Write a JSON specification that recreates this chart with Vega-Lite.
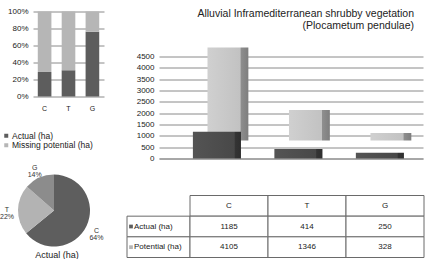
{
  "$schema": "https://vega.github.io/schema/vega-lite/v6.json",
  "padding": {"left": 0, "top": 7.5, "right": 0, "bottom": 0},
  "bounds": "full",
  "spacing": 1,
  "resolve": {"scale": {"color": "independent"}, "legend": {"color": "independent"}},
  "config": {
    "view": {"stroke": null},
    "font": "Liberation Sans",
    "axis": {"labelFont": "Liberation Sans", "labelColor": "#222"},
    "legend": {"labelFont": "Liberation Sans", "labelColor": "#222"},
    "title": {"font": "Liberation Sans", "color": "#222", "fontWeight": "normal"},
    "text": {"font": "Liberation Sans"}
  },
  "vconcat": [
    {
      "bounds": "flush",
      "spacing": 55,
      "resolve": {"scale": {"color": "independent"}, "legend": {"color": "independent"}},
      "hconcat": [
        {
          "width": 71,
          "height": 85,
          "data": {"values": [
            {"cat": "C", "series": "Actual (ha)", "value": 1185},
            {"cat": "C", "series": "Missing potential (ha)", "value": 2920},
            {"cat": "T", "series": "Actual (ha)", "value": 414},
            {"cat": "T", "series": "Missing potential (ha)", "value": 932},
            {"cat": "G", "series": "Actual (ha)", "value": 250},
            {"cat": "G", "series": "Missing potential (ha)", "value": 78}
          ]},
          "mark": {"type": "bar"},
          "encoding": {
            "x": {"field": "cat", "type": "nominal", "sort": ["C", "T", "G"],
                  "scale": {"paddingInner": 0.43, "paddingOuter": 0.2},
                  "axis": {"title": null, "labelAngle": 0, "ticks": false, "domain": false, "labelPadding": 8, "labelFontSize": 7}},
            "y": {"field": "value", "type": "quantitative", "stack": "normalize",
                  "axis": {"title": null, "format": ".0%", "values": [0, 0.2, 0.4, 0.6, 0.8, 1], "grid": true, "gridColor": "#8a8a8a", "gridOpacity": 1, "domain": false, "ticks": false, "labelPadding": 5, "labelFontSize": 8}},
            "order": {"field": "series", "type": "nominal", "sort": "ascending"},
            "color": {"field": "series", "type": "nominal",
                      "scale": {"domain": ["Actual (ha)", "Missing potential (ha)"], "range": ["#5d5d5d", "#b6b6b6"]},
                      "legend": {"orient": "none", "legendX": -31, "legendY": 120, "title": null, "symbolType": "square", "symbolSize": 16, "symbolStrokeWidth": 0, "labelFontSize": 8.5, "rowPadding": 0.5, "labelOffset": 1.5, "padding": 0}}
          }
        },
        {
          "width": 264,
          "height": 147,
          "title": {"text": ["Alluvial Inframediterranean shrubby vegetation", "(Plocametum pendulae)"], "anchor": "end", "frame": "group", "offset": -20, "dx": -9, "fontSize": 10.5, "lineHeight": 12},
          "data": {"values": [
            {"cat": "C", "series": "Actual (ha)", "value": 1185},
            {"cat": "T", "series": "Actual (ha)", "value": 414},
            {"cat": "G", "series": "Actual (ha)", "value": 250},
            {"cat": "C", "series": "Potential (ha)", "value": 4105},
            {"cat": "T", "series": "Potential (ha)", "value": 1346},
            {"cat": "G", "series": "Potential (ha)", "value": 328}
          ]},
          "encoding": {
            "x": {"field": "cat", "type": "nominal", "sort": ["C", "T", "G"],
                  "scale": {"paddingInner": 0.41, "paddingOuter": 0.325, "align": 0.64},
                  "axis": {"title": null, "labels": false, "ticks": false, "domain": true, "domainColor": "#8a8a8a"}},
            "y": {"field": "value", "type": "quantitative", "scale": {"domain": [0, 6485], "nice": false},
                  "axis": {"title": null, "format": "d", "values": [0, 500, 1000, 1500, 2000, 2500, 3000, 3500, 4000, 4500], "grid": true, "gridColor": "#8a8a8a", "gridOpacity": 1, "domain": false, "ticks": false, "labelPadding": 5, "labelFontSize": 8}}
          },
          "layer": [
            {
              "transform": [{"filter": "datum.series == 'Potential (ha)'"}],
              "mark": {"type": "bar", "xOffset": 11, "x2Offset": 11, "yOffset": -18, "y2Offset": -18, "width": {"band": 0.85},
                       "color": {"gradient": "linear", "x1": 0, "y1": 0, "x2": 1, "y2": 0,
                                 "stops": [{"offset": 0, "color": "#d0d0d0"}, {"offset": 0.8, "color": "#c2c2c2"}, {"offset": 0.82, "color": "#8e8e8e"}, {"offset": 1, "color": "#7e7e7e"}]}}
            },
            {
              "transform": [{"filter": "datum.series == 'Actual (ha)'"}],
              "mark": {"type": "bar",
                       "color": {"gradient": "linear", "x1": 0, "y1": 0, "x2": 1, "y2": 0,
                                 "stops": [{"offset": 0, "color": "#545454"}, {"offset": 0.86, "color": "#484848"}, {"offset": 0.88, "color": "#343434"}, {"offset": 1, "color": "#2e2e2e"}]}}
            }
          ]
        }
      ]
    },
    {
      "bounds": "flush",
      "spacing": 52,
      "resolve": {"scale": {"color": "independent"}, "legend": {"color": "independent"}},
      "hconcat": [
        {
          "width": 42,
          "height": 30,
          "title": {"text": "Actual (ha)", "orient": "bottom", "anchor": "middle", "offset": 4, "dx": 3, "fontSize": 9},
          "data": {"values": [
            {"cat": "C", "value": 1185, "label": "C\n64%"},
            {"cat": "T", "value": 414, "label": "T\n22%"},
            {"cat": "G", "value": 250, "label": "G\n14%"}
          ]},
          "encoding": {
            "theta": {"field": "value", "type": "quantitative", "stack": true},
            "order": {"field": "value", "type": "quantitative", "sort": "descending"}
          },
          "layer": [
            {
              "mark": {"type": "arc", "outerRadius": 36},
              "encoding": {
                "color": {"field": "cat", "type": "nominal", "scale": {"domain": ["C", "T", "G"], "range": ["#5e5e5e", "#b3b3b3", "#8c8c8c"]}, "legend": null}
              }
            },
            {
              "mark": {"type": "text", "radius": 47, "fontSize": 7, "lineHeight": 7, "lineBreak": "\n", "color": "#333"},
              "encoding": {
                "text": {"field": "label"}
              }
            }
          ]
        },
        {
          "bounds": "flush",
          "spacing": 0,
          "resolve": {"scale": {"color": "independent"}},
          "hconcat": [
            {
              "width": 63,
              "height": 62,
              "data": {"values": [
                {"row": "Actual (ha)"},
                {"row": "Potential (ha)"}
              ]},
              "encoding": {
                "y": {"field": "row", "type": "nominal", "scale": {"domain": ["h", "Actual (ha)", "Potential (ha)"], "paddingInner": 0, "paddingOuter": 0}, "axis": null}
              },
              "layer": [
                {"mark": {"type": "rect", "fill": "white", "stroke": "#6a6a6a", "strokeWidth": 1}},
                {
                  "mark": {"type": "point", "shape": "square", "filled": true, "size": 14, "xOffset": 4, "opacity": 1},
                  "encoding": {
                    "x": {"datum": 0, "type": "quantitative", "scale": {"domain": [0, 1]}, "axis": null},
                    "color": {"field": "row", "type": "nominal", "scale": {"domain": ["Actual (ha)", "Potential (ha)"], "range": ["#5d5d5d", "#b6b6b6"]}, "legend": null}
                  }
                },
                {
                  "mark": {"type": "text", "align": "left", "dx": 7, "fontSize": 8, "color": "#222"},
                  "encoding": {
                    "x": {"datum": 0, "type": "quantitative"},
                    "text": {"field": "row"}
                  }
                }
              ]
            },
            {
              "width": 234,
              "height": 62,
              "data": {"values": [
                {"cat": "C", "row": "h", "txt": "C"},
                {"cat": "T", "row": "h", "txt": "T"},
                {"cat": "G", "row": "h", "txt": "G"},
                {"cat": "C", "row": "Actual (ha)", "txt": "1185"},
                {"cat": "T", "row": "Actual (ha)", "txt": "414"},
                {"cat": "G", "row": "Actual (ha)", "txt": "250"},
                {"cat": "C", "row": "Potential (ha)", "txt": "4105"},
                {"cat": "T", "row": "Potential (ha)", "txt": "1346"},
                {"cat": "G", "row": "Potential (ha)", "txt": "328"}
              ]},
              "encoding": {
                "x": {"field": "cat", "type": "nominal", "scale": {"domain": ["C", "T", "G"], "paddingInner": 0, "paddingOuter": 0}, "axis": null},
                "y": {"field": "row", "type": "nominal", "scale": {"domain": ["h", "Actual (ha)", "Potential (ha)"], "paddingInner": 0, "paddingOuter": 0}, "axis": null}
              },
              "layer": [
                {"mark": {"type": "rect", "fill": "white", "stroke": "#6a6a6a", "strokeWidth": 1}},
                {"mark": {"type": "text", "fontSize": 8, "color": "#222"}, "encoding": {"text": {"field": "txt"}}}
              ]
            }
          ]
        }
      ]
    }
  ]
}
